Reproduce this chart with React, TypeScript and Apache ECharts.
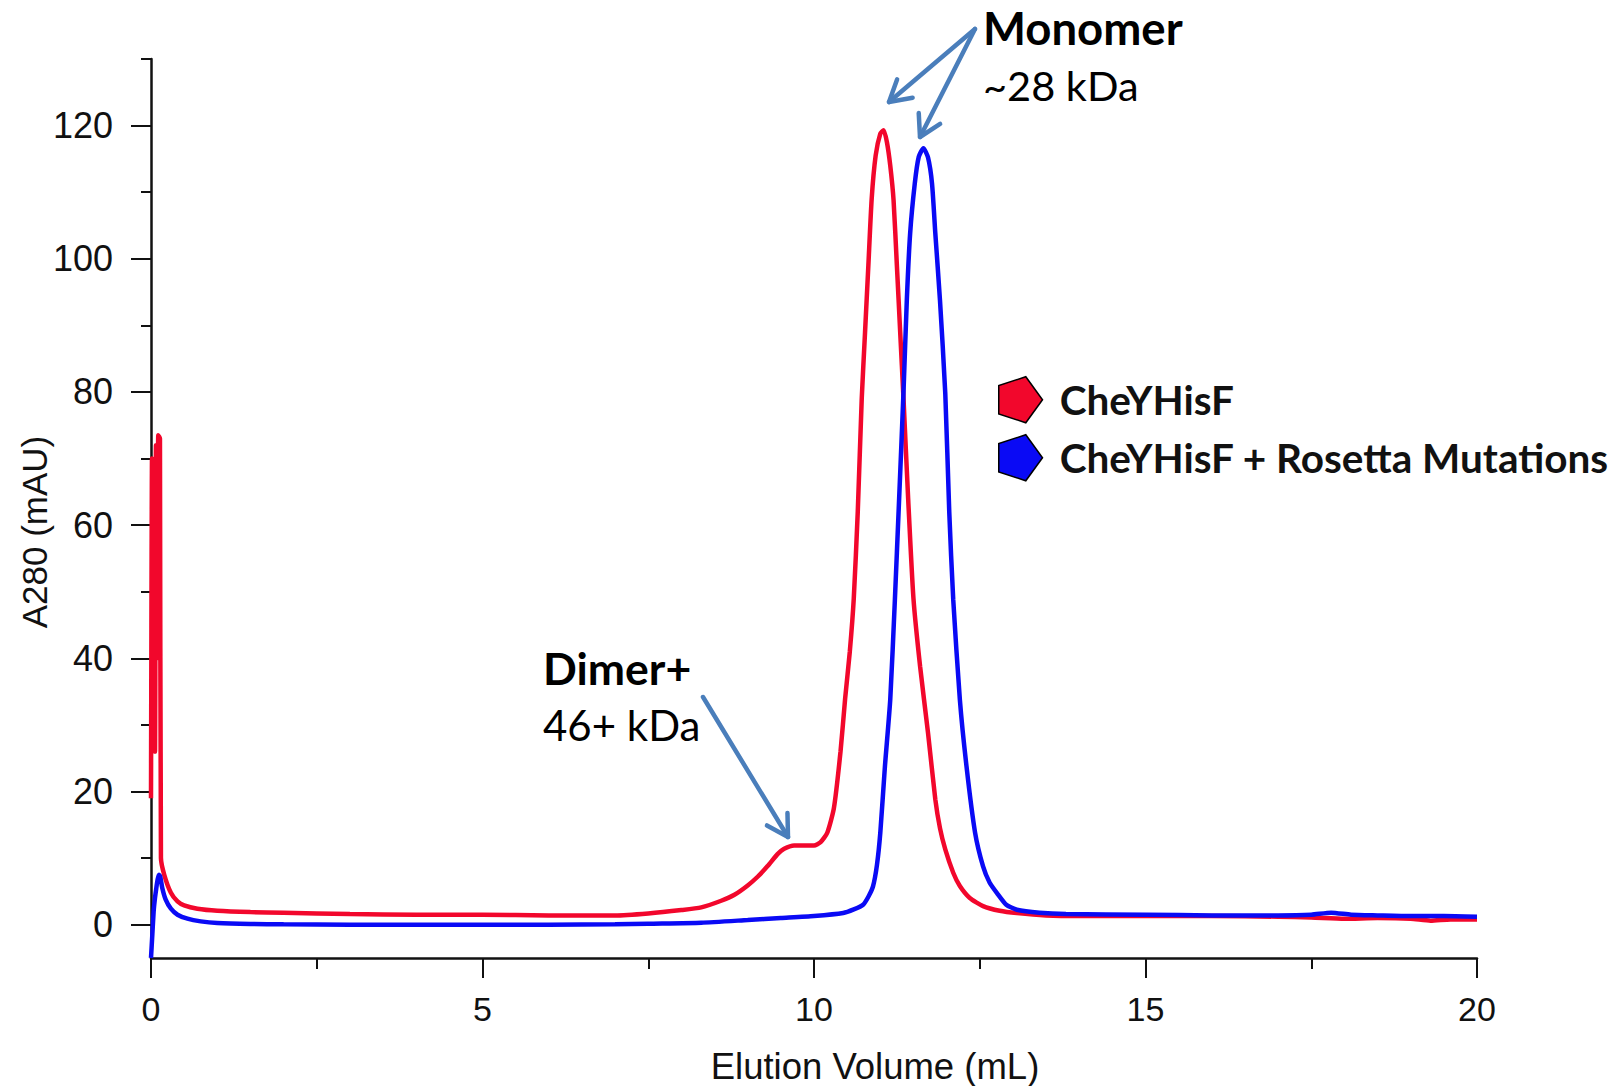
import React, { useEffect, useRef } from "react";
import * as echarts from "echarts";

// ---- Data (Elution Volume mL, A280 mAU) ----
const seriesNames = ["CheYHisF", "CheYHisF + Rosetta Mutations"];
const xTitle = "Elution Volume (mL)";
const yTitle = "A280 (mAU)";

const cheYHisF: [number, number][] = [
  [0, 19], [0.015, 70], [0.03, 36], [0.045, 45], [0.06, 26], [0.075, 72], [0.09, 40], [0.11, 73.5],
  [0.135, 73], [0.15, 10], [0.2, 7.5], [0.3, 4.8], [0.4, 3.5], [0.5, 2.9], [0.7, 2.4], [1, 2.1],
  [1.5, 1.9], [2, 1.8], [3, 1.6], [4, 1.5], [5, 1.5], [6, 1.4], [7, 1.4], [7.5, 1.7], [8, 2.2],
  [8.3, 2.6], [8.6, 3.6], [8.8, 4.5], [9, 5.9], [9.15, 7.2], [9.3, 8.8], [9.45, 10.6], [9.55, 11.4],
  [9.7, 11.9], [9.85, 11.9], [10, 11.9], [10.1, 12.4], [10.2, 13.8], [10.3, 17.5], [10.4, 26],
  [10.47, 34], [10.54, 41], [10.6, 49], [10.66, 62], [10.72, 79], [10.77, 89], [10.82, 99],
  [10.87, 109], [10.93, 115.5], [11.0, 118.8], [11.05, 119.3], [11.1, 117.5], [11.15, 114],
  [11.2, 108.8], [11.25, 99], [11.3, 89], [11.35, 79], [11.42, 64], [11.5, 49], [11.6, 38.8],
  [11.72, 28.8], [11.83, 18.8], [11.9, 14.5], [11.98, 11.3], [12.1, 7.8], [12.2, 5.8], [12.35, 4],
  [12.55, 2.8], [12.8, 2.1], [13.06, 1.75], [13.5, 1.4], [14, 1.3], [15, 1.3], [16, 1.3], [17, 1.2],
  [17.5, 1.1], [18, 0.9], [18.5, 1.0], [19, 0.9], [19.3, 0.6], [19.6, 0.8], [20, 0.8],
];

const rosettaMutations: [number, number][] = [
  [0, -5], [0.02, -1.5], [0.04, 2], [0.06, 4], [0.08, 5.5], [0.1, 6.8], [0.12, 7.5], [0.14, 7.2],
  [0.17, 5.5], [0.22, 3.8], [0.3, 2.4], [0.4, 1.5], [0.55, 0.9], [0.75, 0.5], [1, 0.25], [1.5, 0.1],
  [2, 0.05], [3, 0], [4, 0], [5, 0], [6, 0], [7, 0.05], [7.5, 0.15], [8.3, 0.3], [9, 0.7], [9.5, 1.0],
  [10, 1.3], [10.44, 1.75], [10.6, 2.3], [10.74, 3.0], [10.82, 4.2], [10.89, 5.75], [10.95, 9],
  [11.0, 13.8], [11.07, 23.8], [11.15, 33.8], [11.22, 48.8], [11.28, 63], [11.35, 80], [11.4, 93.8],
  [11.45, 103.8], [11.52, 111.3], [11.58, 115.3], [11.65, 116.6], [11.72, 115.2], [11.78, 111.3],
  [11.83, 103.8], [11.9, 93.8], [11.98, 79.8], [12.04, 62], [12.1, 48.8], [12.2, 33.8], [12.3, 23.8],
  [12.43, 13.8], [12.55, 8.75], [12.65, 6.3], [12.76, 4.75], [12.9, 3.0], [13.06, 2.25], [13.4, 1.8],
  [13.8, 1.6], [15, 1.5], [16, 1.4], [17, 1.4], [17.5, 1.5], [17.8, 1.8], [18.1, 1.5], [18.5, 1.4],
  [19, 1.3], [19.5, 1.3], [20, 1.2],
];

const yMajorTicks = [0, 20, 40, 60, 80, 100, 120];
const yMinorTicks = [10, 30, 50, 70, 90, 110, 130];

const RED = "#f2072c";
const BLUE = "#0a0af5";
const ARROW = "#4a7ebb";

function arrow(x1: number, y1: number, x2: number, y2: number) {
  const a = Math.atan2(y2 - y1, x2 - x1);
  const L = 24;
  const s = Math.PI / 6;
  const p1 = [x2 - L * Math.cos(a - s), y2 - L * Math.sin(a - s)];
  const p2 = [x2 - L * Math.cos(a + s), y2 - L * Math.sin(a + s)];
  return [
    {
      type: "line",
      shape: { x1, y1, x2, y2 },
      style: { stroke: ARROW, lineWidth: 4.5, lineCap: "round" },
    },
    {
      type: "polyline",
      shape: { points: [p1, [x2, y2], p2] },
      style: { stroke: ARROW, lineWidth: 4.5, fill: null, lineCap: "round", lineJoin: "round" },
    },
  ];
}

export default function App() {
  const ref = useRef<HTMLDivElement>(null);
  useEffect(() => {
    document.body.style.margin = "0";
    const chart = echarts.init(ref.current!, null, { renderer: "svg" });
    const axisFont = "Liberation Sans";
    const annFont = "Lato";
    chart.setOption({
      animation: false,
      backgroundColor: "#ffffff",
      grid: { left: 151, right: 135, top: 59, bottom: 128 },
      legend: {
        orient: "vertical",
        left: 993,
        top: 371,
        itemWidth: 46,
        itemHeight: 46,
        itemGap: 10.5,
        icon: "path://M100,50 L65.45,97.55 L9.55,79.39 L9.55,20.61 L65.45,2.45 Z",
        itemStyle: { borderColor: "#000", borderWidth: 1.5 },
        textStyle: {
          fontFamily: annFont,
          fontWeight: "bold",
          fontSize: 40.5,
          lineHeight: 46,
          color: "#111",
          padding: [0, 0, 0, 11],
        },
        data: seriesNames,
      },
      xAxis: {
        type: "value",
        min: 0,
        max: 20,
        interval: 5,
        axisLine: { onZero: false, lineStyle: { color: "#111", width: 2.5 } },
        axisTick: { length: 20, lineStyle: { color: "#111", width: 2 } },
        minorTick: { show: true, splitNumber: 2, length: 11, lineStyle: { color: "#111", width: 2 } },
        axisLabel: { fontFamily: axisFont, fontSize: 34, color: "#111", margin: 34 },
        splitLine: { show: false },
      },
      yAxis: [
        {
          type: "value",
          min: -5,
          max: 130,
          axisLine: { show: true, onZero: false, lineStyle: { color: "#111", width: 2.5 } },
          axisTick: { show: true, customValues: yMajorTicks, length: 20, lineStyle: { color: "#111", width: 2 } },
          axisLabel: { customValues: yMajorTicks, fontFamily: axisFont, fontSize: 36, color: "#111", margin: 38 },
          splitLine: { show: false },
        },
        {
          type: "value",
          min: -5,
          max: 130,
          position: "left",
          axisLine: { show: false, onZero: false },
          axisTick: { show: true, customValues: yMinorTicks, length: 10, lineStyle: { color: "#111", width: 2 } },
          axisLabel: { show: false },
          splitLine: { show: false },
        },
      ],
      series: [
        {
          name: seriesNames[0],
          type: "line",
          data: cheYHisF,
          showSymbol: false,
          symbol: "none",
          smooth: 0.2,
          itemStyle: { color: RED },
          lineStyle: { color: RED, width: 4.5 },
        },
        {
          name: seriesNames[1],
          type: "line",
          data: rosettaMutations,
          showSymbol: false,
          symbol: "none",
          smooth: 0.2,
          itemStyle: { color: BLUE },
          lineStyle: { color: BLUE, width: 4.5 },
        },
      ],
      graphic: [
        ...arrow(975, 29, 889, 102),
        ...arrow(975, 29, 920, 137),
        ...arrow(703, 697, 788, 837),
        {
          type: "text",
          style: { text: "Monomer", x: 983, y: 27, textVerticalAlign: "middle", font: `bold 45.5px ${annFont}`, fill: "#000" },
        },
        {
          type: "text",
          style: { text: "~28 kDa", x: 983, y: 85, textVerticalAlign: "middle", font: `41.5px ${annFont}`, fill: "#000" },
        },
        {
          type: "text",
          style: { text: "Dimer+", x: 543, y: 667, textVerticalAlign: "middle", font: `bold 44.5px ${annFont}`, fill: "#000" },
        },
        {
          type: "text",
          style: { text: "46+ kDa", x: 543, y: 725, textVerticalAlign: "middle", font: `42px ${annFont}`, fill: "#000" },
        },
        {
          type: "text",
          style: { text: xTitle, x: 875, y: 1066, textAlign: "center", textVerticalAlign: "middle", font: `36.5px ${axisFont}`, fill: "#111" },
        },
        {
          type: "text",
          rotation: Math.PI / 2,
          x: 34,
          y: 532,
          style: { text: yTitle, x: 0, y: 0, textAlign: "center", textVerticalAlign: "middle", font: `35px ${axisFont}`, fill: "#111" },
        },
      ],
    });
    return () => chart.dispose();
  }, []);
  return <div ref={ref} style={{ width: 1612, height: 1086 }} />;
}
